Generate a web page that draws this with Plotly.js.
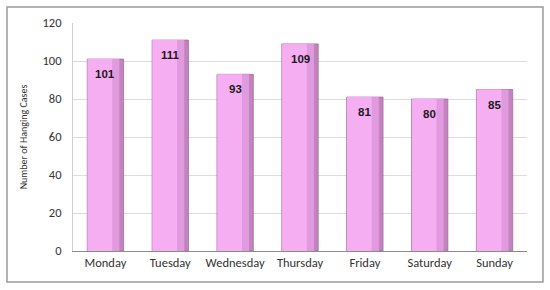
<!DOCTYPE html>
<html>
<head>
<meta charset="utf-8">
<script src="https://cdn.plot.ly/plotly-3.0.1.min.js"></script>
<style>
  html, body { margin: 0; padding: 0; background: #fff; }
  #chart { width: 550px; height: 290px; }
</style>
</head>
<body>
<div id="chart"></div>
<script>
var days = ['Monday', 'Tuesday', 'Wednesday', 'Thursday', 'Friday', 'Saturday', 'Sunday'];
var cases = [101, 111, 93, 109, 81, 80, 85];
var yTicks = [0, 20, 40, 60, 80, 100, 120];

var font = 'Carlito, "Liberation Sans", "DejaVu Sans", sans-serif';

// three overlaid layers fake the shading of the bars (dark right edge)
function layer(color, width, offset, line) {
	return {
		type: 'bar',
		x: days,
		y: cases,
		width: width,
		offset: offset,
		marker: {color: color, line: line || {width: 0}},
		hoverinfo: 'skip',
	};
}
var shade = layer('#c283bf', 0.56, -0.28, {color: '#a56aa2', width: 0.8});
var mid = layer('#e29ade', 0.49, -0.275);
var face = layer('#f6aef2', 0.38, -0.275);

var labels = days.map(function(d, i) {
	return {
		x: d, y: cases[i], xref: 'x', yref: 'y',
		text: '<b>' + cases[i] + '</b>',
		showarrow: false, yshift: -15,
		font: {family: '"Liberation Sans", Arial, sans-serif', size: 11.5, color: '#1a1a1a'},
	};
});

var layout = {
	width: 550,
	height: 290,
	margin: {l: 73, r: 23, t: 23, b: 39},
	paper_bgcolor: '#fff',
	plot_bgcolor: '#fff',
	showlegend: false,
	barmode: 'overlay',
	font: {family: font, color: '#333'},
	xaxis: {
		type: 'category',
		tickfont: {size: 12.5, color: '#333'},
		showline: true,
		linecolor: '#8c8c8c',
		linewidth: 1,
		ticks: '',
		showgrid: false,
	},
	yaxis: {
		range: [0, 120],
		tickvals: yTicks,
		tickfont: {size: 12.5, color: '#333'},
		showline: true,
		linecolor: '#d0d0d0',
		gridcolor: '#dcdcdc',
		zeroline: false,
		ticks: '',
		ticklabelstandoff: 8,
		title: {text: 'Number of Hanging Cases', font: {size: 10, color: '#333'}, standoff: 12},
	},
	annotations: labels,
	shapes: [{
		type: 'rect', xref: 'paper', yref: 'paper',
		x0: -0.1454, x1: 1.0352, y0: -0.136, y1: 1.0702,
		line: {color: '#9a9a9a', width: 1.5},
	}],
};

Plotly.newPlot('chart', [shade, mid, face], layout, {displayModeBar: false, staticPlot: true});
</script>
</body>
</html>
